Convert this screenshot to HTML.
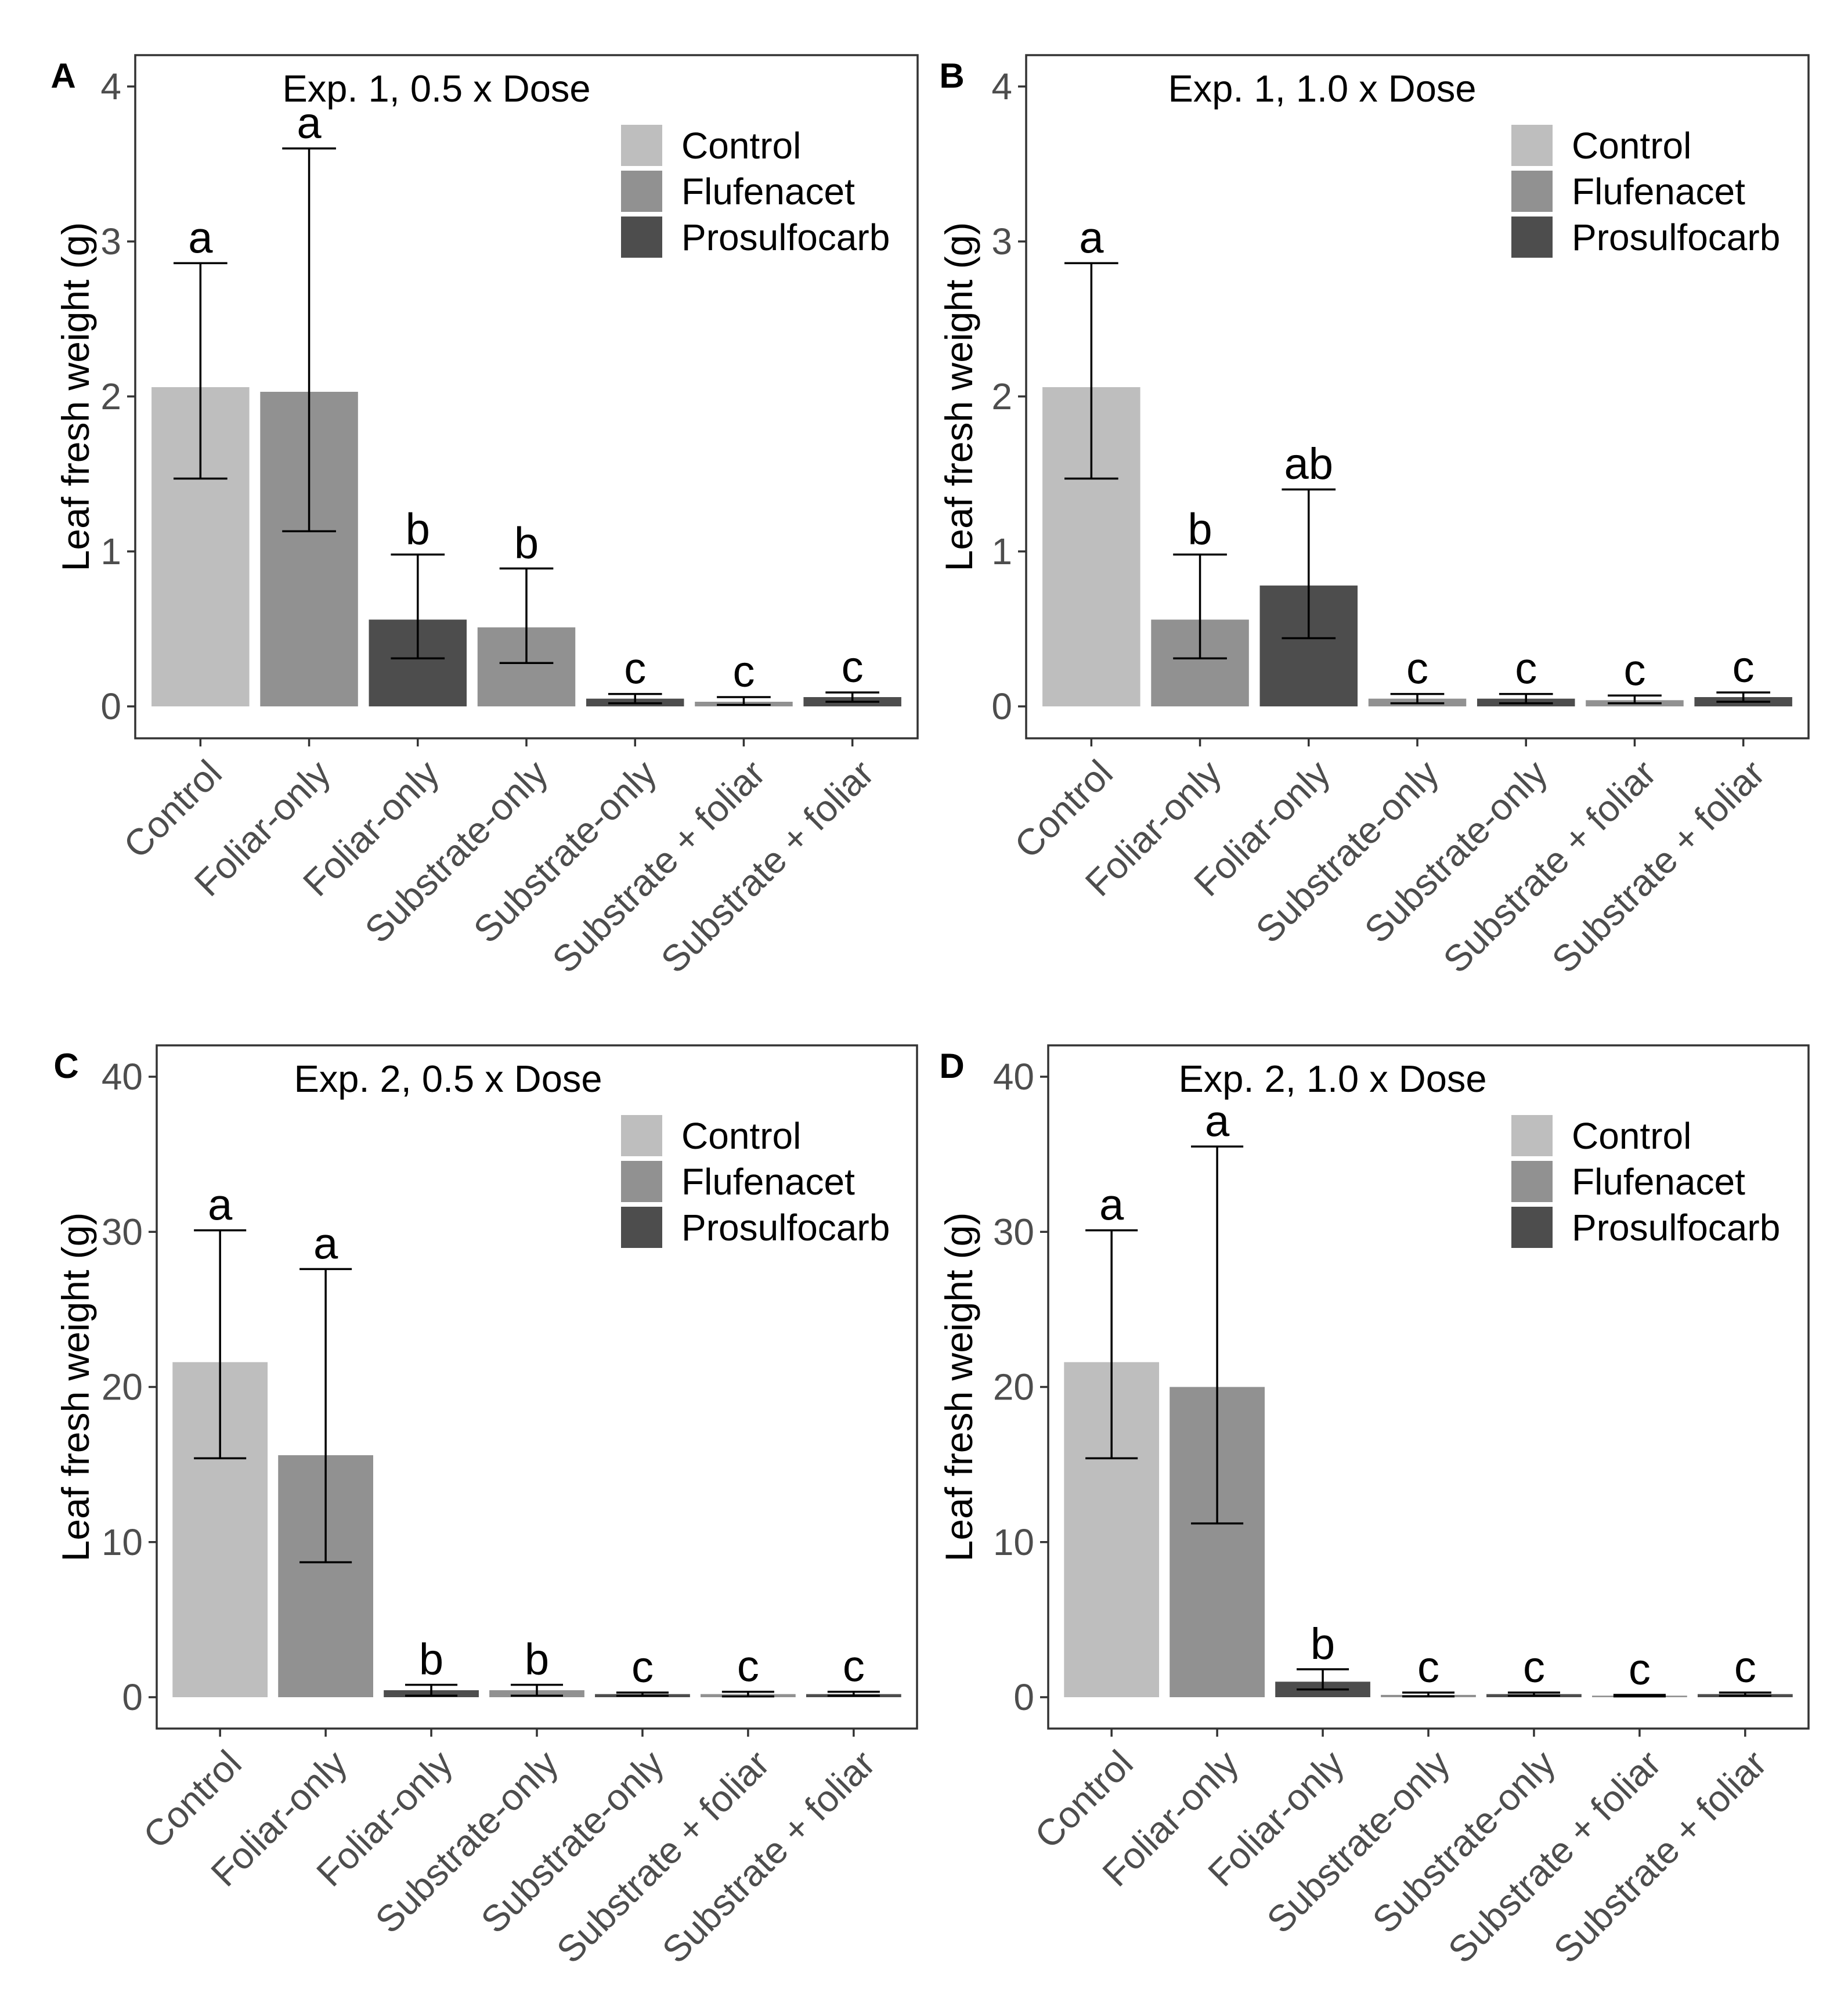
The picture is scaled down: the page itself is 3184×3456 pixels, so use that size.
<!DOCTYPE html>
<html><head><meta charset="utf-8"><style>
html,body{margin:0;padding:0;background:#fff}
svg{display:block;font-family:"Liberation Sans",Arial,sans-serif}
</style></head><body>
<svg id="chart" width="3184" height="3456" viewBox="0 0 3184 3456" xmlns="http://www.w3.org/2000/svg"></svg>
<script>
const categories = ["Control","Foliar-only","Foliar-only","Substrate-only","Substrate-only","Substrate + foliar","Substrate + foliar"];
const treatments = ["control","flufenacet","prosulfocarb","flufenacet","prosulfocarb","flufenacet","prosulfocarb"];
const legendLabels = ["Control","Flufenacet","Prosulfocarb"];
const yTicksSmall = [0,1,2,3,4];
const yTicksLarge = [0,10,20,30,40];
const meanA = [2.06,2.03,0.56,0.51,0.05,0.03,0.06];
const lowA  = [1.47,1.13,0.31,0.28,0.02,0.01,0.03];
const highA = [2.86,3.60,0.98,0.89,0.08,0.06,0.09];
const letA  = ["a","a","b","b","c","c","c"];
const meanB = [2.06,0.56,0.78,0.05,0.05,0.04,0.06];
const lowB  = [1.47,0.31,0.44,0.02,0.02,0.02,0.03];
const highB = [2.86,0.98,1.40,0.08,0.08,0.07,0.09];
const letB  = ["a","b","ab","c","c","c","c"];
const meanC = [21.6,15.6,0.45,0.45,0.2,0.2,0.2];
const lowC  = [15.4,8.7,0.1,0.1,0.1,0.05,0.1];
const highC = [30.1,27.6,0.8,0.8,0.3,0.35,0.35];
const letC  = ["a","a","b","b","c","c","c"];
const meanD = [21.6,20.0,1.0,0.15,0.2,0.1,0.2];
const lowD  = [15.4,11.2,0.5,0.05,0.1,0.05,0.1];
const highD = [30.1,35.5,1.8,0.3,0.3,0.15,0.3];
const letD  = ["a","a","b","c","c","c","c"];

const NS="http://www.w3.org/2000/svg";
const svg=document.getElementById('chart');
const fills={control:"#bebebe",flufenacet:"#919191",prosulfocarb:"#4d4d4d"};
const legendFills=["#bebebe","#919191","#4d4d4d"];
function mk(tag,attrs,parent){const e=document.createElementNS(NS,tag);for(const k in attrs)e.setAttribute(k,attrs[k]);(parent||svg).appendChild(e);return e;}

const panels=[
 {id:"a",label:"A",title:"Exp. 1, 0.5 x Dose",left:233,right:1581,top:95,bottom:1272,zero:1217,max:4,ticks:yTicksSmall,mean:meanA,low:lowA,high:highA,let:letA,labelX:109,yTitleX:131,titleX:752,legX:1070},
 {id:"b",label:"B",title:"Exp. 1, 1.0 x Dose",left:1768,right:3116,top:95,bottom:1272,zero:1217,max:4,ticks:yTicksSmall,mean:meanB,low:lowB,high:highB,let:letB,labelX:1640,yTitleX:1653,titleX:2278,legX:2604},
 {id:"c",label:"C",title:"Exp. 2, 0.5 x Dose",left:270,right:1580,top:1801,bottom:2978,zero:2924,max:40,ticks:yTicksLarge,mean:meanC,low:lowC,high:highC,let:letC,labelX:114,yTitleX:131,titleX:772,legX:1070},
 {id:"d",label:"D",title:"Exp. 2, 1.0 x Dose",left:1806,right:3116,top:1801,bottom:2978,zero:2924,max:40,ticks:yTicksLarge,mean:meanD,low:lowD,high:highD,let:letD,labelX:1640,yTitleX:1653,titleX:2296,legX:2604}
];

panels.forEach(p=>{
  const g=mk('g',{});
  
  
  const ppu=(p.zero-(p.top+54))/p.max;
  const y=v=>p.zero-v*ppu;
  const step=(p.right-p.left)/7.2;
  const x=i=>p.left+0.6*step+i*step;
  const bw=0.9*step;
  p.mean.forEach((m,i)=>{
    const r=mk('rect',{x:x(i)-bw/2,y:y(m),width:bw,height:Math.max(1,y(0)-y(m)),fill:fills[treatments[i]]},g);
    
    
  });
  p.mean.forEach((m,i)=>{
    const cw=bw*0.55;
    const eg=mk('g',{stroke:"#000","stroke-width":3.5},g);
    
    
    mk('line',{x1:x(i),x2:x(i),y1:y(p.low[i]),y2:y(p.high[i])},eg);
    mk('line',{x1:x(i)-cw/2,x2:x(i)+cw/2,y1:y(p.low[i]),y2:y(p.low[i])},eg);
    mk('line',{x1:x(i)-cw/2,x2:x(i)+cw/2,y1:y(p.high[i]),y2:y(p.high[i])},eg);
    const t=mk('text',{x:x(i),y:y(p.high[i])-18,"text-anchor":"middle","font-size":76,fill:"#000"},g);
    t.textContent=p.let[i];
    
    
  });
  const fr=mk('rect',{x:p.left,y:p.top,width:p.right-p.left,height:p.bottom-p.top,fill:"none",stroke:"#333","stroke-width":3.5},g);
  
  
  p.ticks.forEach(v=>{
    mk('line',{x1:p.left-14,x2:p.left,y1:y(v),y2:y(v),stroke:"#333","stroke-width":3.5},g);
    const t=mk('text',{x:p.left-24,y:y(v)+22,"text-anchor":"end","font-size":64,fill:"#4d4d4d"},g);
    t.textContent=v;
    
    
  });
  categories.forEach((c,i)=>{
    mk('line',{x1:x(i),x2:x(i),y1:p.bottom,y2:p.bottom+14,stroke:"#333","stroke-width":3.5},g);
    const t=mk('text',{transform:`translate(${x(i)+8},${p.bottom+32}) rotate(-45)`,"text-anchor":"end",dy:"0.72em","font-size":64,fill:"#4d4d4d"},g);
    t.textContent=c;
    
    
  });
  const cy=(p.top+p.bottom)/2;
  const yt=mk('text',{transform:`translate(${p.yTitleX+22},${cy}) rotate(-90)`,"text-anchor":"middle","font-size":66,fill:"#000"},g);
  yt.textContent="Leaf fresh weight (g)";
  
  
  const tt=mk('text',{x:p.titleX,y:p.top+80,"text-anchor":"middle","font-size":65,fill:"#000"},g);
  tt.textContent=p.title;
  
  
  const pl=mk('text',{x:p.labelX,y:p.top+56,"text-anchor":"middle","font-size":60,"font-weight":"bold",fill:"#000"},g);
  pl.textContent=p.label;
  
  
  legendLabels.forEach((l,k)=>{
    const ly=p.top+120+k*79;
    const lg=mk('g',{},g);
    
    
    mk('rect',{x:p.legX,y:ly,width:71,height:71,fill:legendFills[k]},lg);
    const lt=mk('text',{x:p.legX+104,y:ly+58,"font-size":64,fill:"#000"},lg);
    lt.textContent=l;
  });
});
</script>
</body></html>
